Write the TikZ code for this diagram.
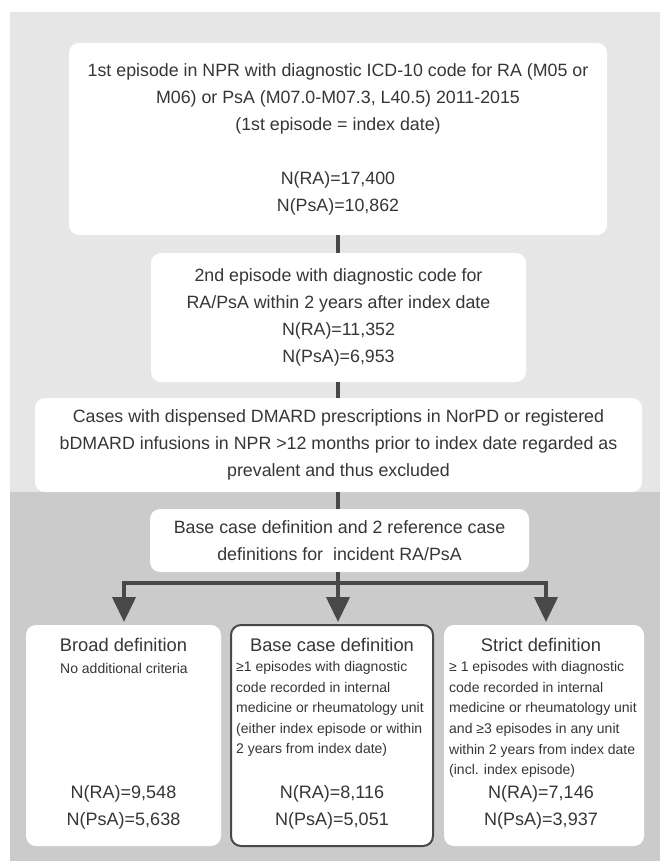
\documentclass[tikz,border=0pt]{standalone}
\usepackage{fontspec}
\setmainfont{Liberation Sans}
\usetikzlibrary{arrows.meta,calc}
\definecolor{bglight}{HTML}{E6E6E6}
\definecolor{bgdark}{HTML}{CBCBCB}
\definecolor{txt}{HTML}{363636}
\definecolor{conncol}{HTML}{484848}
\tikzset{
  x=1pt,y=-1pt,
  box/.style={rectangle,rounded corners=10pt,fill=white,draw=none,inner sep=0pt,
    align=center,text=txt,font=\fontsize{17.8}{27}\selectfont},
  defbox/.style={rectangle,rounded corners=10pt,fill=white,draw=none,inner sep=0pt},
  basebox/.style={defbox,draw=conncol,line width=2pt},
  ttl/.style={text=txt,inner sep=0pt,font=\fontsize{18.3}{20}\selectfont},
  sub/.style={text=txt,inner sep=0pt,font=\fontsize{14}{20.6}\selectfont},
  nums/.style={text=txt,inner sep=0pt,align=center,font=\fontsize{18}{27}\selectfont},
  conn/.style={draw=conncol,line width=4pt,line join=miter},
  arr/.style={conn,-{Triangle[width=23pt,length=25pt]}}
}
\begin{document}
\begin{tikzpicture}
\useasboundingbox (0,0) rectangle (660,861);
\fill[white] (0,0) rectangle (660,861);
\fill[bglight] (10,12) rectangle (660,492);
\fill[bgdark] (10,492) rectangle (660,861);

\node[box,minimum width=538pt,minimum height=192pt] (top) at (338,139)
 {1st episode in NPR with diagnostic ICD-10 code for RA (M05 or\\
  M06) or PsA (M07.0-M07.3, L40.5) 2011-2015\\
  (1st episode = index date)\\[27pt]
  N(RA)=17,400\\
  N(PsA)=10,862};

\node[box,minimum width=375pt,minimum height=129pt] (second) at (338.5,317.5)
 {2nd episode with diagnostic code for\\
  RA/PsA within 2 years after index date\\
  N(RA)=11,352\\
  N(PsA)=6,953};

\node[box,minimum width=607pt,minimum height=94pt] (excl) at (338.5,445)
 {Cases with dispensed DMARD prescriptions in NorPD or registered\\
  bDMARD infusions in NPR >12 months prior to index date regarded as\\
  prevalent and thus excluded};

\node[box,minimum width=379pt,minimum height=63pt] (defs) at (339.5,540.5)
 {Base case definition and 2 reference case\\
  definitions for\ \ incident RA/PsA};

\node[defbox,minimum width=195pt,minimum height=221pt] (broad) at (123.5,735.5) {};
\node[basebox,minimum width=202pt,minimum height=221pt] (base) at (332,735.5) {};
\node[defbox,minimum width=200pt,minimum height=221pt] (strict) at (544,735.5) {};

\node[ttl] (broadT) at (123.5,645) {Broad definition};
\node[sub] (broadS) at (124,668) {No additional criteria};
\node[nums] (broadN) at (123.5,807.5) {N(RA)=9,548\\N(PsA)=5,638};

\node[ttl] (baseT) at (332,645) {Base case definition};
\node[sub,anchor=west,align=left] (baseS) at (236,709)
 {≥1 episodes with diagnostic\\
  code recorded in internal\\
  medicine or rheumatology unit\\
  (either index episode or within\\
  2 years from index date)};
\node[nums] (baseN) at (332,807.5) {N(RA)=8,116\\N(PsA)=5,051};

\node[ttl] (strictT) at (541,645) {Strict definition};
\node[sub,anchor=west,align=left] (strictS) at (449,719.5)
 {≥ 1 episodes with diagnostic\\
  code recorded in internal\\
  medicine or rheumatology unit\\
  and ≥3 episodes in any unit\\
  within 2 years from index date\\
  (incl. index episode)};
\node[nums] (strictN) at (541,807.5) {N(RA)=7,146\\N(PsA)=3,937};

\draw[conn] (top.south) -- (top.south |- second.north);
\draw[conn] (second.south -| top.south) -- (top.south |- excl.north);
\draw[conn] (excl.south -| top.south) -- (top.south |- defs.north);
\coordinate (jn) at (338,583);
\coordinate (tipL) at (124,622);
\coordinate (tipM) at (338,622);
\coordinate (tipR) at (546,622);
\draw[conn] (defs.south -| jn) -- (jn);
\draw[arr] (jn) -| (tipL);
\draw[arr] (jn) -- (tipM);
\draw[arr] (jn) -| (tipR);
\end{tikzpicture}
\end{document}
